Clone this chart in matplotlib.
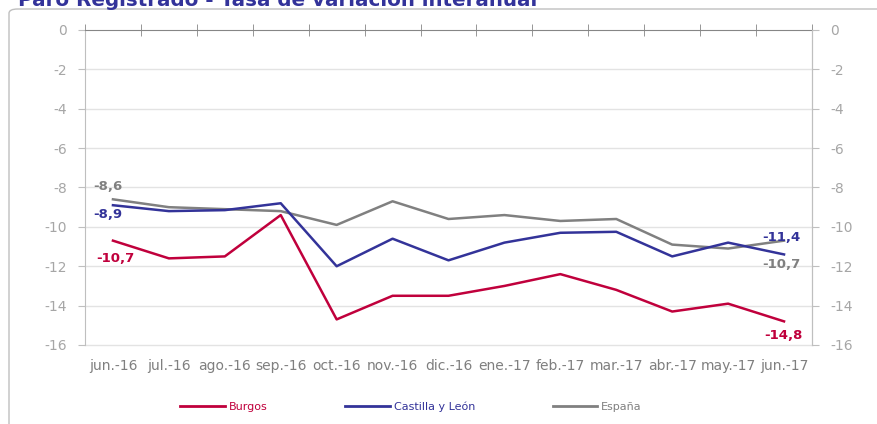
import matplotlib
matplotlib.use('Agg')
import matplotlib.pyplot as plt
from matplotlib.patches import FancyBboxPatch
from matplotlib.lines import Line2D
from matplotlib.ticker import FixedLocator, FuncFormatter

plt.rcParams['font.family'] = ['DejaVu Sans']
plt.rcParams['axes.unicode_minus'] = False

# Paro registrado, tasa de variación interanual (%)
months = ['jun.-16', 'jul.-16', 'ago.-16', 'sep.-16', 'oct.-16', 'nov.-16', 'dic.-16',
          'ene.-17', 'feb.-17', 'mar.-17', 'abr.-17', 'may.-17', 'jun.-17']
burgos = [-10.7, -11.6, -11.5, -9.4, -14.7, -13.5, -13.5, -13.0, -12.4, -13.2, -14.3, -13.9, -14.8]
castilla = [-8.9, -9.2, -9.15, -8.8, -12.0, -10.6, -11.7, -10.8, -10.3, -10.25, -11.5, -10.8, -11.4]
espana = [-8.6, -9.0, -9.1, -9.2, -9.9, -8.7, -9.6, -9.4, -9.7, -9.6, -10.9, -11.1, -10.7]
yticks = [0, -2, -4, -6, -8, -10, -12, -14, -16]

RED = '#C0003C'
BLUE = '#333399'
GRAY = '#808080'

W, H = 877, 424
fig = plt.figure(figsize=(W / 100, H / 100), dpi=100)

# outer frame of the chart area
frame = FancyBboxPatch((9 / W, -0.2), 1.2, 1 - 9 / H + 0.2,
                       boxstyle='round,pad=0,rounding_size=0.01',
                       transform=fig.transFigure, fill=False,
                       edgecolor='#BFBFBF', linewidth=1.0)
fig.patches.append(frame)

fig.text(18 / W, 1 - 6 / H, 'Paro Registrado - Tasa de variación interanual',
         fontsize=14.3, fontweight='bold', color='#33339A', va='baseline', ha='left')

ax = fig.add_axes([85 / W, 1 - 345 / H, (812 - 85) / W, (345 - 30) / H])
x = list(range(len(months)))

ax.set_xlim(-0.5, len(months) - 0.5)
ax.set_ylim(-16, 0)

for yv in yticks[1:]:
    ax.axhline(yv, color='#E3E3E3', linewidth=1.0, zorder=0, clip_on=False)

ax.plot(x, espana, color=GRAY, linewidth=1.8, label='España', zorder=3)
ax.plot(x, castilla, color=BLUE, linewidth=1.8, label='Castilla y León', zorder=4)
ax.plot(x, burgos, color=RED, linewidth=1.8, label='Burgos', zorder=5)

# category axis sits on the zero line at the top
ax.spines['bottom'].set_visible(False)
ax.spines['top'].set_color('#868686')
ax.spines['left'].set_color('#BFBFBF')
ax.spines['right'].set_color('#BFBFBF')

ax.set_xticks(x)
ax.set_xticklabels(months)
ax.tick_params(axis='x', which='major', length=0, pad=10, labelsize=10, labelcolor='#7F7F7F')
ax.xaxis.set_minor_locator(FixedLocator([i - 0.5 for i in range(len(months) + 1)]))
ax.tick_params(axis='x', which='minor', top=True, bottom=False, direction='inout',
               length=9, color='#868686')

fmt = FuncFormatter(lambda v, p: '%d' % v)
ax.set_yticks(yticks)
ax.yaxis.set_major_formatter(fmt)
ax.tick_params(axis='y', length=5, color='#BFBFBF', labelsize=10, labelcolor='#A6A6A6', pad=8)

ax2 = ax.twinx()
ax2.set_ylim(-16, 0)
ax2.set_yticks(yticks)
ax2.yaxis.set_major_formatter(fmt)
ax2.tick_params(axis='y', length=5, color='#BFBFBF', labelsize=10, labelcolor='#A6A6A6', pad=8)
for s in ['top', 'bottom', 'left']:
    ax2.spines[s].set_visible(False)
ax2.spines['right'].set_color('#BFBFBF')

# value labels at the first and last month
def label(i, series, color, dx, dy):
    ax.annotate(('%.1f' % series[i]).replace('.', ','), (x[i], series[i]),
                xytext=(dx, dy), textcoords='offset pixels', ha='center', va='center',
                fontsize=9.5, fontweight='bold', color=color)

label(0, espana, GRAY, -5, 13)
label(0, castilla, BLUE, -5, -9)
label(0, burgos, RED, 2, -18)
label(-1, castilla, BLUE, -3, 17)
label(-1, espana, GRAY, -3, -24)
label(-1, burgos, RED, -1, -14)

handles = [Line2D([], [], color=RED, linewidth=2),
           Line2D([], [], color=BLUE, linewidth=2),
           Line2D([], [], color=GRAY, linewidth=2)]
leg = fig.legend(handles, ['Burgos', 'Castilla y León', 'España'], loc='center',
                 bbox_to_anchor=(411 / W, 1 - 407 / H), ncol=3, frameon=False,
                 fontsize=8, handlelength=4, handletextpad=0.35, columnspacing=7)
for txt, c in zip(leg.get_texts(), [RED, BLUE, GRAY]):
    txt.set_color(c)

fig.savefig('out.png', dpi=100)
